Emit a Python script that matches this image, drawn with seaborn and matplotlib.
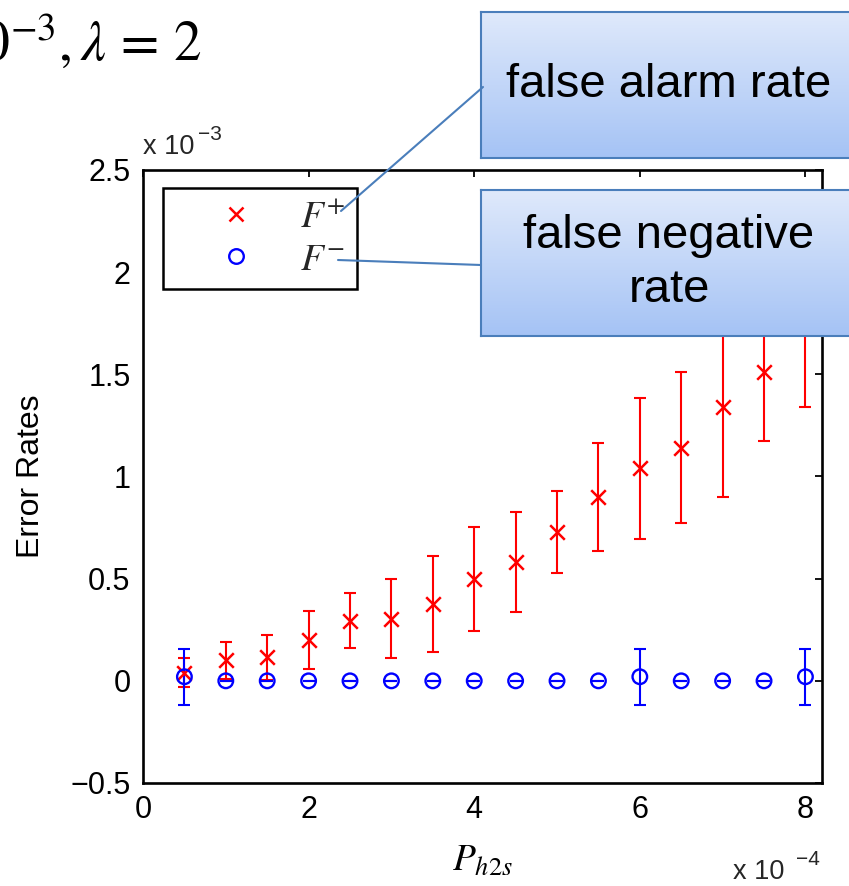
import numpy as np
import pandas as pd
import seaborn as sns
import matplotlib
matplotlib.use('Agg')
import matplotlib.pyplot as plt
from matplotlib.lines import Line2D
from matplotlib.colors import LinearSegmentedColormap
from matplotlib.font_manager import FontProperties

# data (x in units of 1e-4, rates in units of 1e-3)
p_h2s = [0.5, 1, 1.5, 2, 2.5, 3, 3.5, 4, 4.5, 5, 5.5, 6, 6.5, 7, 7.5, 8]
f_plus = [0.04, 0.10, 0.115, 0.20, 0.295, 0.305, 0.375, 0.50,
          0.58, 0.73, 0.90, 1.04, 1.14, 1.34, 1.51, 1.76]
f_plus_err = [0.07, 0.09, 0.11, 0.14, 0.135, 0.195, 0.235, 0.255,
              0.245, 0.20, 0.265, 0.345, 0.37, 0.44, 0.335, 0.42]
f_minus = [0.02, 0, 0, 0, 0, 0, 0, 0, 0, 0, 0, 0.02, 0, 0, 0, 0.02]
f_minus_err = [0.138, 0, 0, 0, 0, 0, 0, 0, 0, 0, 0, 0.137, 0, 0, 0, 0.137]
y_ticks = [-0.5, 0, 0.5, 1, 1.5, 2, 2.5]
x_ticks = [0, 2, 4, 6, 8]

df = pd.DataFrame({'p': p_h2s, 'fp': f_plus, 'fp_err': f_plus_err,
                   'fm': f_minus, 'fm_err': f_minus_err})

sns.set_theme(style='white')
plt.rcParams['font.family'] = ['Liberation Sans', 'DejaVu Sans']
plt.rcParams['mathtext.fontset'] = 'stix'

W, H = 849, 886
fig = plt.figure(figsize=(W / 100, H / 100), dpi=100)
fig.patch.set_facecolor('white')

# axes placed in pixel terms
ax_l, ax_r, ax_t, ax_b = 143, 822, 170, 783
ax = fig.add_axes([ax_l / W, 1 - ax_b / H, (ax_r - ax_l) / W, (ax_b - ax_t) / H])
ax.set_facecolor('white')

ax.errorbar(df['p'], df['fp'], yerr=df['fp_err'], fmt='none', ecolor='red',
            elinewidth=1.5, capsize=4.5, capthick=1.5)
sns.scatterplot(data=df, x='p', y='fp', marker='x', color='red', s=110,
                linewidth=1.8, ax=ax, zorder=3)
ax.errorbar(df['p'], df['fm'], yerr=df['fm_err'], fmt='none', ecolor='blue',
            elinewidth=1.5, capsize=4.5, capthick=1.5)
sns.scatterplot(data=df, x='p', y='fm', marker='o', facecolors='none',
                edgecolor='blue', s=110, linewidth=1.7, ax=ax, zorder=3)

ax.set_xlim(0, 8.2)
ax.set_ylim(-0.5, 2.5)
ax.set_xticks(x_ticks)
ax.set_yticks(y_ticks)
ax.set_xticklabels([('%g' % v).replace('-', '\u2212') for v in x_ticks])
ax.set_yticklabels([('%g' % v).replace('-', '\u2212') for v in y_ticks])
ax.tick_params(direction='in', length=5, width=1.3, top=True, right=True,
               labelsize=22, colors='black', pad=9)
for sp in ax.spines.values():
    sp.set_visible(True)
    sp.set_color('black')
    sp.set_linewidth(1.9)

ax.set_ylabel('Error Rates', fontsize=23, color='black')
ax.yaxis.set_label_coords(-0.143, 0.5)
ax.set_xlabel(r'$P_{h2s}$', fontsize=27, color='black')
ax.xaxis.set_label_coords(0.5, -0.098)

# exponent labels
fig.text(143 / W, 1 - 154 / H, 'x 10', fontsize=19.5, va='baseline')
fig.text(198 / W, 1 - 140 / H, '\u22123', fontsize=15, va='baseline')
fig.text(733 / W, 1 - 879 / H, 'x 10', fontsize=19.5, va='baseline')
fig.text(796 / W, 1 - 865 / H, '\u22124', fontsize=15, va='baseline')

# legend
handles = [Line2D([], [], marker='x', color='red', ls='none', ms=10.5, mew=1.8),
           Line2D([], [], marker='o', color='blue', mfc='none', ls='none', ms=10.5, mew=1.7)]
leg = ax.legend(handles, [r'$F^{+}$', r'$F^{-}$'], loc='upper left',
                bbox_to_anchor=((163 - ax_l) / (ax_r - ax_l), (ax_b - 188) / (ax_b - ax_t)),
                borderaxespad=0, prop=FontProperties(size=27),
                handlelength=3.3, handletextpad=0.05, borderpad=0.3,
                labelspacing=0.17, fancybox=False, framealpha=1)
leg.get_frame().set_edgecolor('black')
leg.get_frame().set_linewidth(1.8)

# clipped title fragment
fig.text(202 / W, 1 - 60 / H, r'$10^{-3},\lambda\,=\,2$', fontsize=40, ha='right',
         va='baseline', color='black')

# callout boxes
cmap = LinearSegmentedColormap.from_list('box', ['#a5c3f5', '#dfe9fb'])
grad = np.linspace(0, 1, 100).reshape(-1, 1)
box_col = '#4a7ebb'


def callout(left, top, right, bottom, text, linespacing=1.2):
    bx = fig.add_axes([left / W, 1 - bottom / H, (right - left) / W, (bottom - top) / H])
    bx.imshow(grad, aspect='auto', cmap=cmap, extent=[0, 1, 0, 1], origin='lower')
    bx.set_xticks([])
    bx.set_yticks([])
    for sp in bx.spines.values():
        sp.set_visible(True)
        sp.set_color(box_col)
        sp.set_linewidth(1.5)
    bx.text(0.5, 0.5, text, ha='center', va='center', fontsize=34,
            color='black', linespacing=linespacing, transform=bx.transAxes)


callout(481, 12, 857, 158, 'false alarm rate')
callout(481, 190, 857, 336, 'false negative\nrate', linespacing=1.3)

# connector lines
for (x0, y0), (x1, y1) in [((483, 87), (341, 211)), ((481, 265), (338, 260))]:
    fig.add_artist(Line2D([x0 / W, x1 / W], [1 - y0 / H, 1 - y1 / H],
                          color=box_col, lw=1.5, transform=fig.transFigure))

fig.savefig('out.png', dpi=100)
